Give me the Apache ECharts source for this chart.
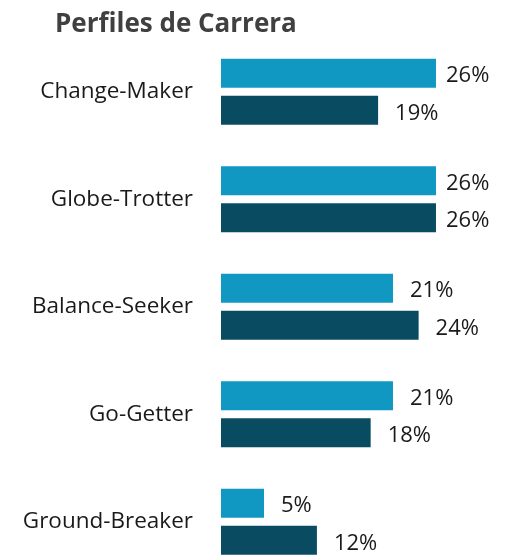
<!DOCTYPE html>
<html>
<head>
<meta charset="utf-8">
<script src="https://cdn.jsdelivr.net/npm/echarts@6/dist/echarts.min.js"></script>
<style>
  html, body { margin: 0; padding: 0; background: #fff; }
  #chart { width: 518px; height: 557px; }
</style>
</head>
<body>
<div id="chart"></div>
<script>
var categories = ['Change-Maker', 'Globe-Trotter', 'Balance-Seeker', 'Go-Getter', 'Ground-Breaker'];
var seriesA = [26, 26, 20.8, 20.8, 5.2];
var seriesB = [19, 26, 23.9, 18.1, 11.6];

var chart = echarts.init(document.getElementById('chart'));

function pct(p) { return Math.round(p.value) + '%'; }

// labels near the right edge sit closer to the bar end
function toItems(values) {
    return values.map(function (v) {
        return v >= 25.5 ? { value: v, label: { distance: 10 } } : v;
    });
}

var labelStyle = {
    show: true,
    position: 'right',
    distance: 17,
    formatter: pct,
    color: '#1a1a1a',
    fontSize: 22,
    fontFamily: 'Open Sans',
    offset: [0, 3]
};

chart.setOption({
    animation: false,
    title: {
        text: 'Perfiles de Carrera',
        left: 50,
        top: 7,
        textStyle: { fontFamily: 'Open Sans', fontWeight: 'bold', fontSize: 26, color: '#404040' }
    },
    grid: { left: 221, top: 38, width: 289.4, height: 537.5, outerBoundsMode: 'none', containLabel: false },
    xAxis: {
        type: 'value',
        min: 0,
        max: 35,
        show: false
    },
    yAxis: {
        type: 'category',
        data: categories,
        inverse: true,
        axisLine: { show: false },
        axisTick: { show: false },
        axisLabel: { margin: 28, color: '#1a1a1a', fontSize: 22.5, fontFamily: 'Open Sans', padding: [4, 0, 0, 0] }
    },
    series: [
        {
            type: 'bar',
            data: toItems(seriesA),
            barWidth: 29,
            barGap: '28%',
            itemStyle: { color: '#1098C3' },
            label: labelStyle
        },
        {
            type: 'bar',
            data: toItems(seriesB),
            barWidth: 29,
            barGap: '28%',
            itemStyle: { color: '#094C62' },
            label: labelStyle
        }
    ]
});
</script>
</body>
</html>
